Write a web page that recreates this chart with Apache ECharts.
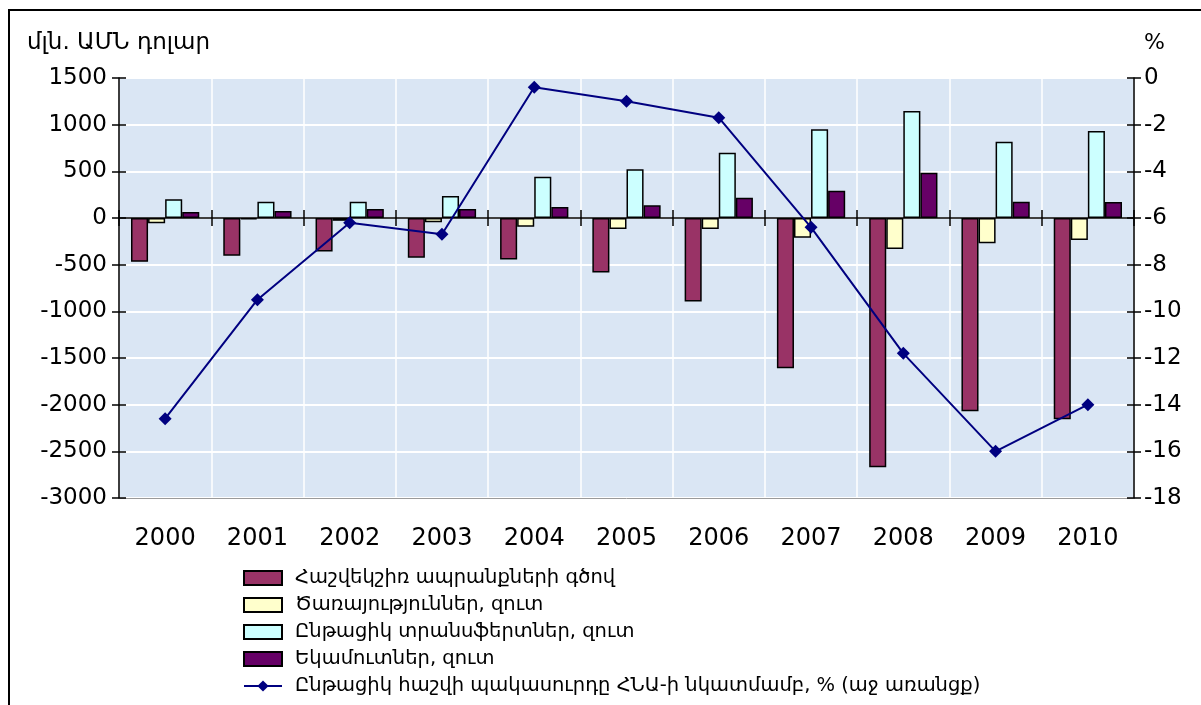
<!DOCTYPE html>
<html>
<head>
<meta charset="utf-8">
<script src="https://cdn.jsdelivr.net/npm/echarts@6/dist/echarts.min.js"></script>
<style>
html,body{margin:0;padding:0;background:#fff;}
#c{width:1201px;height:705px;}
</style>
</head>
<body>
<div id="c"></div>
<script>
const years = ['2000','2001','2002','2003','2004','2005','2006','2007','2008','2009','2010'];
const goodsBalance = [-470, -405, -360, -425, -445, -585, -895, -1610, -2670, -2070, -2155];
const servicesNet = [-55, -15, -30, -46, -93, -118, -118, -211, -332, -271, -236];
const transfersNet = [200, 175, 175, 236, 443, 521, 700, 950, 1146, 818, 932];
const remittancesNet = [65, 75, 96, 96, 118, 136, 218, 292, 485, 175, 171];
const deficitPct = [-14.6, -9.5, -6.2, -6.7, -0.4, -1.0, -1.7, -6.4, -11.8, -16.0, -14.0];

const seriesNames = [
  'Հաշվեկշիռ ապրանքների գծով',
  'Ծառայություններ, զուտ',
  'Ընթացիկ տրանսֆերտներ, զուտ',
  'Եկամուտներ, զուտ',
  'Ընթացիկ հաշվի պակասուրդը ՀՆԱ-ի նկատմամբ, % (աջ առանցք)'
];
const leftTitle = 'մլն. ԱՄՆ դոլար';
const rightTitle = '%';

const FONT = 'DejaVu Sans';
const chart = echarts.init(document.getElementById('c'), null, {renderer: 'canvas'});

const barStyle = (color) => ({color: color, borderColor: '#000', borderWidth: 1.5});
const plain = (v) => String(v);

chart.setOption({
  animation: false,
  textStyle: {fontFamily: FONT},
  grid: {left: 119, right: 67, top: 78, bottom: 207, show: true,
         backgroundColor: '#dae6f4', borderColor: '#9a9a9a', borderWidth: 1},
  graphic: [
    {type: 'rect', shape: {x: 9, y: 10, width: 1300, height: 800},
     style: {fill: 'none', stroke: '#000', lineWidth: 2}, silent: true},
    {type: 'text', left: 27, top: 32, style: {text: leftTitle, font: '23px "DejaVu Sans"', fill: '#000'}},
    {type: 'text', left: 1144, top: 32, style: {text: rightTitle, font: '22px "DejaVu Sans"', fill: '#000'}}
  ],
  legend: {
    orient: 'vertical', left: 243, top: 568, height: 200, padding: 0, itemGap: 7,
    itemWidth: 38, itemHeight: 14,
    textStyle: {fontFamily: FONT, fontSize: 19.5, lineHeight: 18, color: '#000', padding: [0, 0, 0, 8]},
    data: seriesNames.map((n, i) => i < 4 ? {name: n, icon: 'rect'} : {name: n})
  },
  xAxis: [
    {type: 'category', data: years, position: 'bottom',
     axisLine: {onZero: true, onZeroAxisIndex: 0, lineStyle: {color: '#000', width: 1.5}},
     axisTick: {show: true, length: 8, lineStyle: {color: '#000', width: 1.5}},
     axisLabel: {show: false},
     splitLine: {show: true, lineStyle: {color: '#ffffff', width: 1.5}}},
    {type: 'category', data: years, position: 'bottom',
     axisLine: {onZero: false, lineStyle: {color: '#9a9a9a'}},
     axisTick: {show: false},
     axisLabel: {show: true, margin: 29, fontFamily: FONT, fontSize: 24, color: '#000'},
     splitLine: {show: false}},
    {type: 'category', data: years, position: 'bottom',
     axisLine: {onZero: true, onZeroAxisIndex: 0, show: false},
     axisTick: {show: true, inside: true, length: 8, lineStyle: {color: '#000', width: 1.5}},
     axisLabel: {show: false}, splitLine: {show: false}}
  ],
  yAxis: [
    {type: 'value', min: -3000, max: 1500, interval: 500, position: 'left',
     axisLine: {show: true, lineStyle: {color: '#000', width: 1.5}},
     axisTick: {show: true, length: 7, lineStyle: {color: '#000', width: 1.5}},
     axisLabel: {margin: 12, fontFamily: FONT, fontSize: 23, color: '#000', formatter: plain},
     splitLine: {show: true, lineStyle: {color: '#ffffff', width: 2}}},
    {type: 'value', min: -18, max: 0, interval: 2, position: 'right',
     axisLine: {show: true, lineStyle: {color: '#000', width: 1.5}},
     axisTick: {show: true, length: 7, lineStyle: {color: '#000', width: 1.5}},
     axisLabel: {margin: 10, fontFamily: FONT, fontSize: 23, color: '#000', formatter: plain},
     splitLine: {show: false}},
    {type: 'value', min: -3000, max: 1500, interval: 500, position: 'left',
     axisLine: {show: false}, axisLabel: {show: false}, splitLine: {show: false},
     axisTick: {show: true, inside: true, length: 7, lineStyle: {color: '#000', width: 1.5}}},
    {type: 'value', min: -18, max: 0, interval: 2, position: 'right',
     axisLine: {show: false}, axisLabel: {show: false}, splitLine: {show: false},
     axisTick: {show: true, inside: true, length: 7, lineStyle: {color: '#000', width: 1.5}}}
  ],
  series: [
    {name: seriesNames[0], type: 'bar', data: goodsBalance, barGap: '0%', barCategoryGap: '26%',
     itemStyle: barStyle('#993366')},
    {name: seriesNames[1], type: 'bar', data: servicesNet, itemStyle: barStyle('#ffffcc')},
    {name: seriesNames[2], type: 'bar', data: transfersNet, itemStyle: barStyle('#ccffff')},
    {name: seriesNames[3], type: 'bar', data: remittancesNet, itemStyle: barStyle('#660066')},
    {name: seriesNames[4], type: 'line', yAxisIndex: 1, data: deficitPct,
     symbol: 'diamond', symbolSize: 13, z: 5,
     lineStyle: {color: '#000080', width: 2}, itemStyle: {color: '#000080'}}
  ]
});
</script>
</body>
</html>
